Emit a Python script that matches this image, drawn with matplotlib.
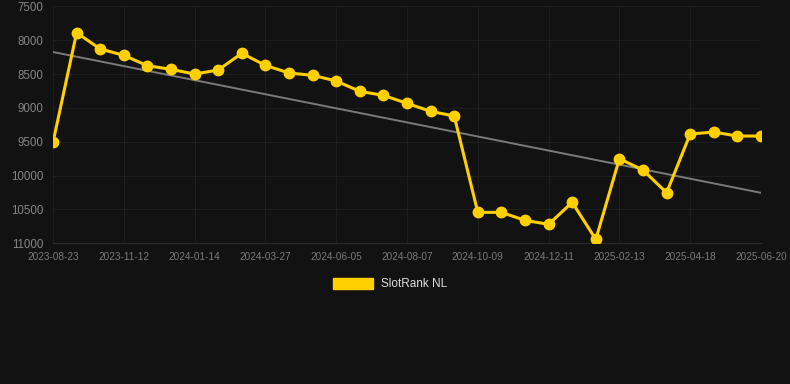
import numpy as np
import matplotlib
matplotlib.use("Agg")
import matplotlib.pyplot as plt
from matplotlib.patches import Patch

# rank per snapshot (lower is better, axis inverted)
ranks = [9510, 7890, 8130, 8224, 8377, 8431, 8500, 8441, 8194, 8372,
         8485, 8519, 8603, 8756, 8815, 8933, 9051, 9120, 10543, 10543,
         10661, 10720, 10395, 10942, 9751, 9918, 10253, 9386, 9357, 9416,
         9416]
tick_labels = ["2023-08-23", "2023-11-12", "2024-01-14", "2024-03-27",
               "2024-06-05", "2024-08-07", "2024-10-09", "2024-12-11",
               "2025-02-13", "2025-04-18", "2025-06-20"]
y_ticks = [7500, 8000, 8500, 9000, 9500, 10000, 10500, 11000]

bg = "#121212"
gold = "#ffd000"
plt.rcParams["font.family"] = ["Liberation Sans", "DejaVu Sans"]

fig = plt.figure(figsize=(7.9, 3.84), dpi=100, facecolor=bg)
ax = fig.add_axes([53 / 790, 1 - 243.3 / 384, 708 / 790, 237 / 384])
ax.set_facecolor(bg)

x = np.arange(len(ranks))
# linear trend over the series
k, b = np.polyfit(x, ranks, 1)
ax.plot(x, k * x + b, color="#7a7a7a", lw=1.4, zorder=2)
ax.plot(x, ranks, color=gold, lw=2.2, marker="o", ms=7.5, zorder=3)

ax.set_xlim(0, len(ranks) - 1)
ax.set_ylim(11000, 7500)
ax.set_yticks(y_ticks)
ax.set_xticks(x[::3])
ax.set_xticklabels(tick_labels)
ax.grid(True, color="#1e1e1e", lw=0.8)
for s in ax.spines.values():
    s.set_visible(False)
ax.spines["bottom"].set_visible(True)
ax.spines["bottom"].set_color("#2a2a2a")
ax.spines["bottom"].set_linewidth(0.8)
ax.tick_params(axis="y", colors="#858585", labelsize=8.3, length=0, pad=7)
ax.tick_params(axis="x", colors="#7a7a7a", labelsize=7.2, length=0, pad=6)

fig.legend(handles=[Patch(color=gold, label="SlotRank NL")],
           loc="center", bbox_to_anchor=(390 / 790, 1 - 284 / 384),
           frameon=False, fontsize=8.5, labelcolor="#dddddd",
           handlelength=3.4, handleheight=1.1, handletextpad=0.6)

fig.savefig("out.png", dpi=100, facecolor=bg)
